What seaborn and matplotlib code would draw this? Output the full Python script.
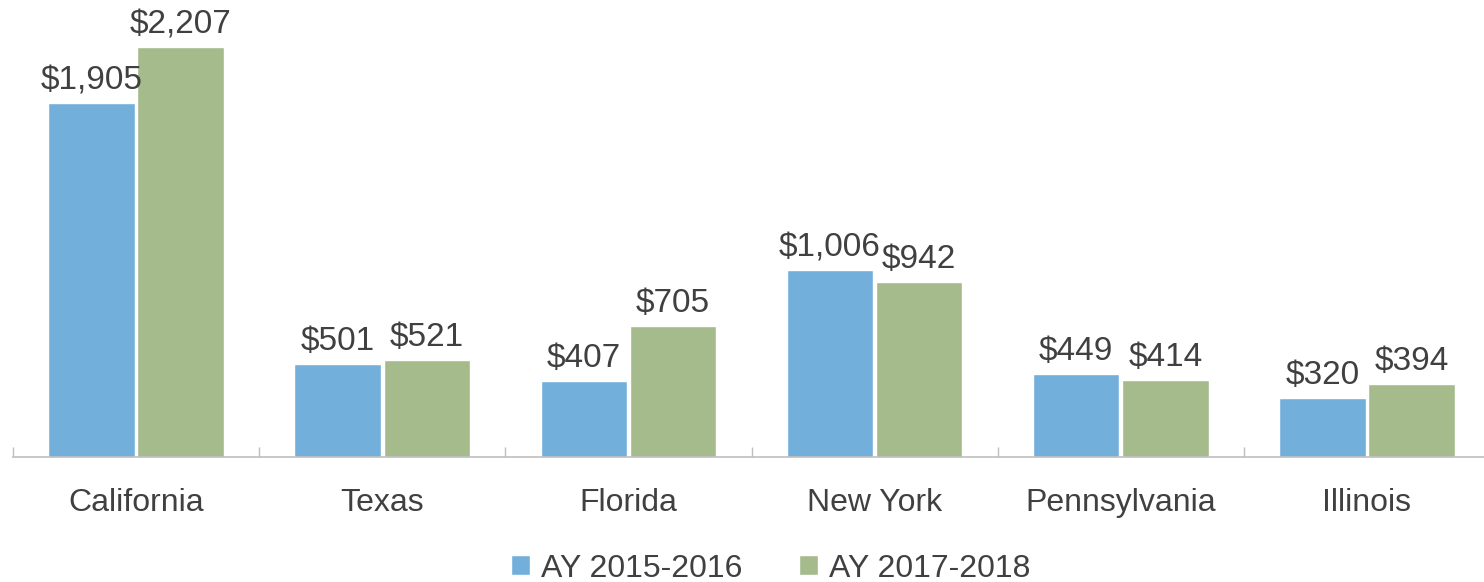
import matplotlib
matplotlib.use("Agg")
import matplotlib.pyplot as plt
import seaborn as sns
import pandas as pd

# Chart data
states = ["California", "Texas", "Florida", "New York", "Pennsylvania", "Illinois"]
ay_2015_2016 = [1905, 501, 407, 1006, 449, 320]
ay_2017_2018 = [2207, 521, 705, 942, 414, 394]
series_names = ["AY 2015-2016", "AY 2017-2018"]

blue = "#73AFDB"
green = "#A5BB8B"
text_color = "#404040"

df = pd.DataFrame({
    "State": states * 2,
    "Series": [series_names[0]] * len(states) + [series_names[1]] * len(states),
    "Value": ay_2015_2016 + ay_2017_2018,
})

sns.set_style("white")
plt.rcParams["font.family"] = ["Liberation Sans", "DejaVu Sans"]

fig = plt.figure(figsize=(14.84, 5.82), dpi=100)
ax = fig.add_axes([13 / 1484, 1 - 457 / 582, 1477 / 1484, 457 / 582])

sns.barplot(data=df, x="State", y="Value", hue="Series", order=states,
            hue_order=series_names, palette=[blue, green],
            width=0.724, gap=0.03, saturation=1, ax=ax)

for container in ax.containers:
    ax.bar_label(container, labels=[f"${v:,.0f}" for v in container.datavalues],
                 padding=5, fontsize=24, color=text_color)

ax.set_xlim(-0.5, 5.5)
ax.set_ylim(0, 2460)
ax.set_xlabel("")
ax.set_ylabel("")
ax.set_yticks([])

for side in ["top", "right", "left"]:
    ax.spines[side].set_visible(False)
ax.spines["bottom"].set_color("#BFBFBF")
ax.spines["bottom"].set_linewidth(1.2)

ax.set_xticks(range(len(states)))
ax.set_xticklabels(states, fontsize=23, color=text_color)
ax.tick_params(axis="x", which="major", length=0, pad=22)
ax.set_xticks([i - 0.5 for i in range(len(states) + 1)], minor=True)
ax.tick_params(axis="x", which="minor", bottom=True, direction="in", length=7,
               width=1, color="#BFBFBF")

leg = ax.legend(loc="lower center", bbox_to_anchor=(0.513, -0.277),
                ncol=2, frameon=False, fontsize=23, handlelength=0.6,
                handleheight=0.6, handletextpad=0.35, columnspacing=1.75,
                borderaxespad=0, borderpad=0)
for t in leg.get_texts():
    t.set_color(text_color)

fig.savefig("out.png", dpi=100)
